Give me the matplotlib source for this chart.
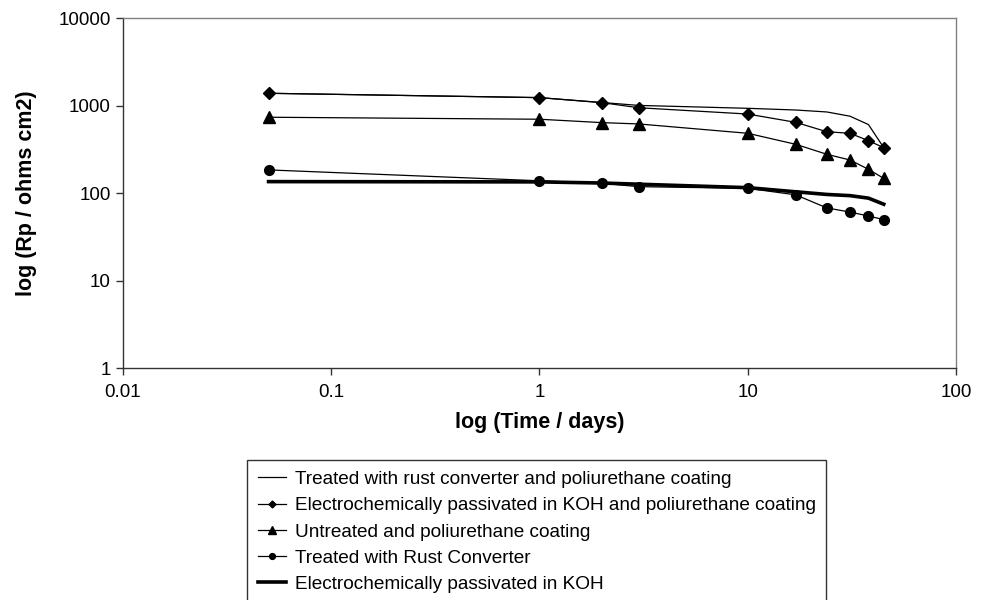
import matplotlib
matplotlib.use("Agg")
import matplotlib.pyplot as plt
from matplotlib.ticker import FixedLocator, FixedFormatter, NullLocator

plt.rcParams['font.family'] = ['Liberation Sans', 'DejaVu Sans']

days = [0.05, 1, 2, 3, 10, 17, 24, 31, 38, 45]

rust_pu = [1390, 1240, 1090, 1010, 936, 895, 850, 760, 610, 332]
koh_pu = [1390, 1240, 1085, 950, 805, 647, 505, 485, 399, 332]
untreated_pu = [740, 702, 642, 620, 485, 363, 279, 240, 188, 148]
rust_conv = [185, 139, 130, 119, 114, 96, 68, 61, 55, 50]
koh = [136, 135, 131, 127, 116, 104, 97, 94, 88, 75]

labels = [
    "Treated with rust converter and poliurethane coating",
    "Electrochemically passivated in KOH and poliurethane coating",
    "Untreated and poliurethane coating",
    "Treated with Rust Converter",
    "Electrochemically passivated in KOH",
]

xticks = [0.01, 0.1, 1, 10, 100]
xticklabels = ["0.01", "0.1", "1", "10", "100"]
yticks = [1, 10, 100, 1000, 10000]
yticklabels = ["1", "10", "100", "1000", "10000"]

fig = plt.figure(figsize=(9.89, 6.0), dpi=100)
ax = fig.add_axes([0.1244, 0.3862, 0.8422, 0.5833])

ax.plot(days, rust_pu, color='black', lw=0.9, label=labels[0])
ax.plot(days, koh_pu, color='black', lw=0.9, marker='D', ms=5.8, label=labels[1])
ax.plot(days, untreated_pu, color='black', lw=0.9, marker='^', ms=8.5, label=labels[2])
ax.plot(days, rust_conv, color='black', lw=0.9, marker='o', ms=7, label=labels[3])
ax.plot(days, koh, color='black', lw=2.6, label=labels[4])

ax.set_xscale('log')
ax.set_yscale('log')
ax.set_xlim(0.01, 100)
ax.set_ylim(1, 10000)
ax.xaxis.set_major_locator(FixedLocator(xticks))
ax.xaxis.set_major_formatter(FixedFormatter(xticklabels))
ax.yaxis.set_major_locator(FixedLocator(yticks))
ax.yaxis.set_major_formatter(FixedFormatter(yticklabels))
ax.xaxis.set_minor_locator(NullLocator())
ax.yaxis.set_minor_locator(NullLocator())
ax.tick_params(axis='both', which='major', direction='out', length=5, width=1,
               labelsize=13.5, color='#333333')
ax.tick_params(axis='x', pad=6)
ax.tick_params(axis='y', pad=4)

for s in ['left', 'bottom']:
    ax.spines[s].set_color('#333333')
    ax.spines[s].set_linewidth(1.0)
for s in ['top', 'right']:
    ax.spines[s].set_color('#808080')
    ax.spines[s].set_linewidth(1.0)

ax.set_xlabel("log (Time / days)", fontsize=15.5, fontweight='bold')
ax.set_ylabel("log (Rp / ohms cm2)", fontsize=15.5, fontweight='bold')
ax.xaxis.set_label_coords(0.5, -0.125)
ax.yaxis.set_label_coords(-0.103, 0.5)

leg = fig.legend(loc='upper left', bbox_to_anchor=(0.2497, 0.2333), fontsize=13.7,
                 frameon=True, fancybox=False, handlelength=1.47, handletextpad=0.47,
                 borderpad=0.56, labelspacing=0.47, markerscale=0.6, borderaxespad=0)
leg.get_frame().set_edgecolor('black')
leg.get_frame().set_linewidth(1.0)

fig.savefig("out.png", dpi=100)
